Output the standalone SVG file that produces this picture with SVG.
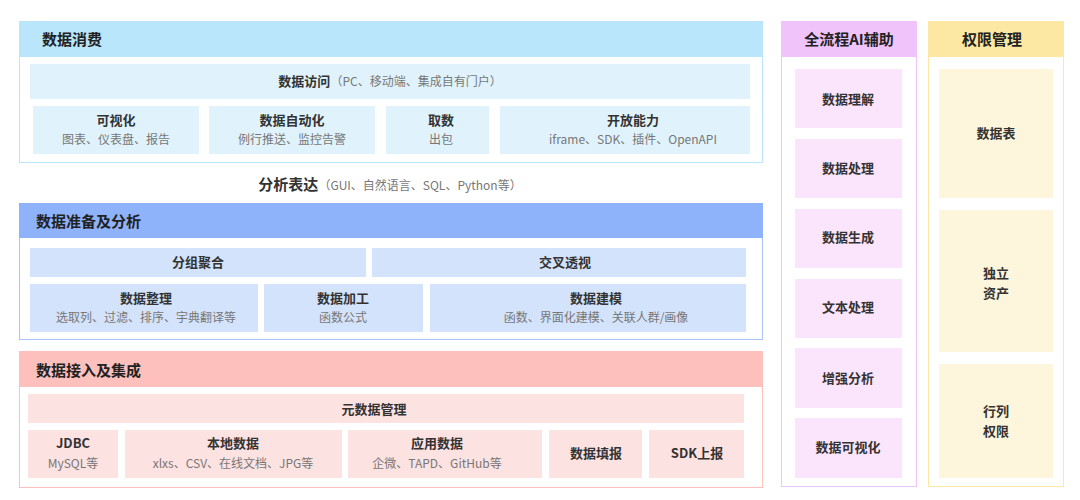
<svg xmlns="http://www.w3.org/2000/svg" width="1080" height="500" viewBox="0 0 1080 500">
<style>
text{font-family:"Noto Sans CJK SC","Noto Sans",sans-serif;text-anchor:middle}
.h{font-size:15px;font-weight:bold;fill:#222;text-anchor:start}
.t{font-size:13px;font-weight:bold;fill:#333}
.s{font-size:12px;fill:#777}
</style>
<rect width="1080" height="500" fill="#fff"/>
<g id="consume">
<rect x="19.5" y="21.5" width="743" height="141" fill="#fff" stroke="#b9e6fb"/>
<rect x="19" y="21" width="744" height="36" fill="#b9e6fb"/>
<text class="h" x="42" y="45">数据消费</text>
<rect x="30" y="64" width="720" height="35" fill="#e0f3fc"/>
<text x="390" y="86"><tspan class="t">数据访问</tspan><tspan class="s">（PC、移动端、集成自有门户）</tspan></text>
<rect x="33" y="106" width="166" height="48" fill="#e0f3fc"/>
<text class="t" x="116" y="125">可视化</text><text class="s" x="116" y="144">图表、仪表盘、报告</text>
<rect x="209" y="106" width="166" height="48" fill="#e0f3fc"/>
<text class="t" x="292" y="125">数据自动化</text><text class="s" x="292" y="144">例行推送、监控告警</text>
<rect x="386" y="106" width="103" height="48" fill="#e0f3fc"/>
<text class="t" x="441" y="125">取数</text><text class="s" x="441" y="144">出包</text>
<rect x="500" y="106" width="250" height="48" fill="#e0f3fc"/>
<text class="t" x="633" y="125">开放能力</text><text class="s" x="633" y="144">iframe、SDK、插件、OpenAPI</text>
</g>
<g id="expr"><text x="390" y="190"><tspan class="t" style="font-size:15px">分析表达</tspan><tspan class="s">（GUI、自然语言、SQL、Python等）</tspan></text></g>
<g id="prep">
<rect x="19.5" y="203.5" width="743" height="136" fill="#fff" stroke="#a9c6fb"/>
<rect x="19" y="203" width="744" height="35" fill="#8fb3fb"/>
<text class="h" x="36" y="227">数据准备及分析</text>
<rect x="30" y="248" width="336" height="29" fill="#d4e3fc"/>
<text class="t" x="198" y="267">分组聚合</text>
<rect x="372" y="248" width="374" height="29" fill="#d4e3fc"/>
<text class="t" x="565" y="267">交叉透视</text>
<rect x="30" y="284" width="228" height="48" fill="#d4e3fc"/>
<text class="t" x="146" y="303">数据整理</text><text class="s" x="146" y="322">选取列、过滤、排序、宇典翻译等</text>
<rect x="264" y="284" width="159" height="48" fill="#d4e3fc"/>
<text class="t" x="343" y="303">数据加工</text><text class="s" x="343" y="322">函数公式</text>
<rect x="430" y="284" width="316" height="48" fill="#d4e3fc"/>
<text class="t" x="596" y="303">数据建模</text><text class="s" x="596" y="322">函数、界面化建模、关联人群/画像</text>
</g>
<g id="ingest">
<rect x="19.5" y="351.5" width="743" height="136" fill="#fff" stroke="#fdc0bd"/>
<rect x="19" y="351" width="744" height="36" fill="#fdc0bd"/>
<text class="h" x="36" y="376">数据接入及集成</text>
<rect x="28" y="394" width="716" height="29" fill="#fde2e2"/>
<text class="t" x="374" y="414">元数据管理</text>
<rect x="28" y="430" width="90" height="48" fill="#fde2e2"/>
<text class="t" x="73" y="448">JDBC</text><text class="s" x="73" y="468">MySQL等</text>
<rect x="125" y="430" width="217" height="48" fill="#fde2e2"/>
<text class="t" x="233" y="448">本地数据</text><text class="s" x="233" y="468">xlxs、CSV、在线文档、JPG等</text>
<rect x="348" y="430" width="194" height="48" fill="#fde2e2"/>
<text class="t" x="437" y="448">应用数据</text><text class="s" x="437" y="468">企微、TAPD、GitHub等</text>
<rect x="549" y="430" width="93" height="48" fill="#fde2e2"/>
<text class="t" x="596" y="458">数据填报</text>
<rect x="649" y="430" width="95" height="48" fill="#fde2e2"/>
<text class="t" x="697" y="458">SDK上报</text>
</g>
<g id="ai">
<rect x="781.5" y="21.5" width="135" height="465" fill="#fff" stroke="#f0c3fb"/>
<rect x="781" y="21" width="136" height="36" fill="#f0c3fb"/>
<text class="h" x="849" y="45" style="text-anchor:middle">全流程AI辅助</text>
<rect x="795" y="69" width="107" height="59" fill="#fbe5fd"/><text class="t" x="848" y="104">数据理解</text>
<rect x="795" y="139" width="107" height="59" fill="#fbe5fd"/><text class="t" x="848" y="173">数据处理</text>
<rect x="795" y="209" width="107" height="59" fill="#fbe5fd"/><text class="t" x="848" y="242">数据生成</text>
<rect x="795" y="279" width="107" height="59" fill="#fbe5fd"/><text class="t" x="848" y="312">文本处理</text>
<rect x="795" y="348" width="107" height="60" fill="#fbe5fd"/><text class="t" x="848" y="383">增强分析</text>
<rect x="795" y="418" width="107" height="60" fill="#fbe5fd"/><text class="t" x="848" y="452">数据可视化</text>
</g>
<g id="perm">
<rect x="928.5" y="21.5" width="135" height="465" fill="#fff" stroke="#fde8a3"/>
<rect x="928" y="21" width="136" height="36" fill="#fde8a3"/>
<text class="h" x="992" y="45" style="text-anchor:middle">权限管理</text>
<rect x="939" y="69" width="114" height="129" fill="#fdf5dc"/><text class="t" x="996" y="138">数据表</text>
<rect x="939" y="210" width="114" height="142" fill="#fdf5dc"/><text class="t" x="996" y="278">独立</text><text class="t" x="996" y="298">资产</text>
<rect x="939" y="364" width="114" height="114" fill="#fdf5dc"/><text class="t" x="996" y="416">行列</text><text class="t" x="996" y="436">权限</text>
</g>
<g id="connectors"/>
</svg>
